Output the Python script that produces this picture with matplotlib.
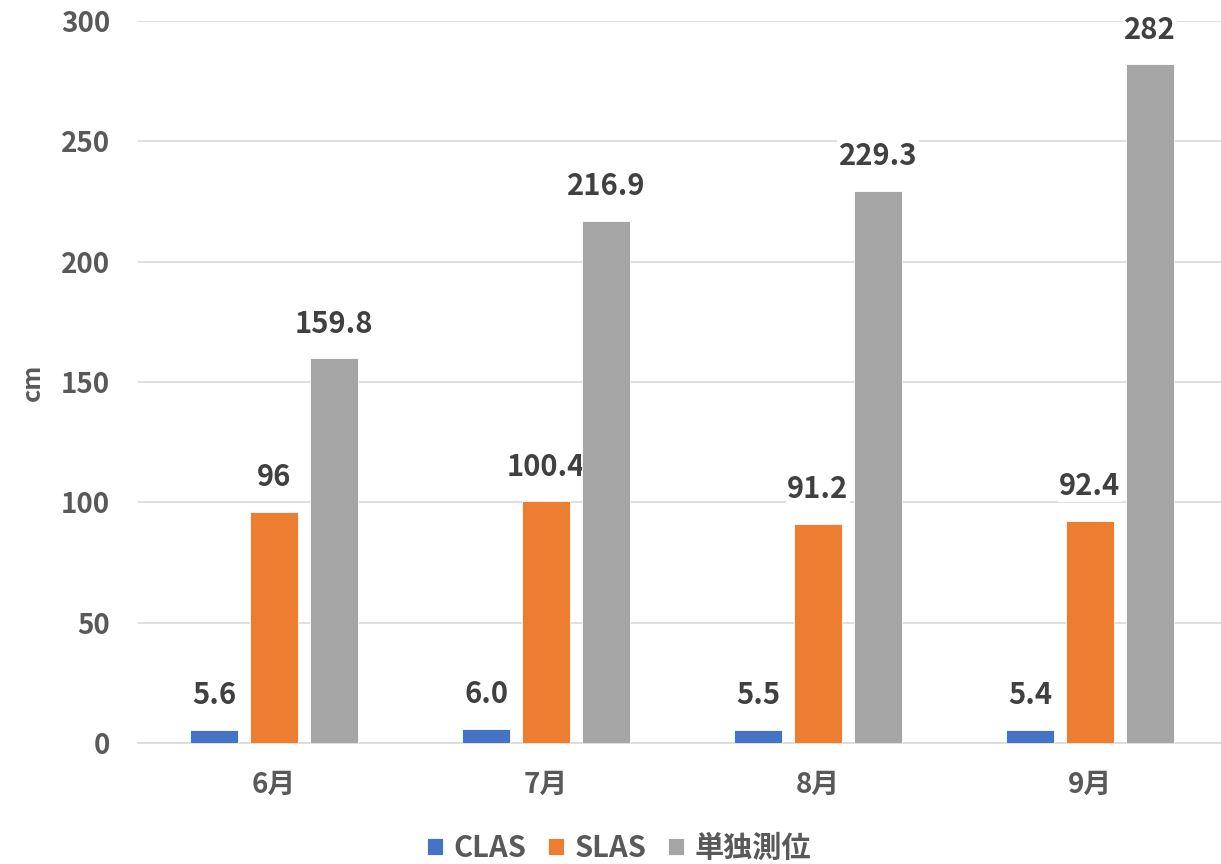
import matplotlib
matplotlib.use("Agg")
import matplotlib.pyplot as plt
import numpy as np

plt.rcParams['font.family'] = ['Noto Sans CJK JP', 'DejaVu Sans']

months = ["6月", "7月", "8月", "9月"]
series_names = ["CLAS", "SLAS", "単独測位"]
clas = [5.6, 6.0, 5.5, 5.4]
slas = [96, 100.4, 91.2, 92.4]
single = [159.8, 216.9, 229.3, 282]
label_text = [
    ["5.6", "6.0", "5.5", "5.4"],
    ["96", "100.4", "91.2", "92.4"],
    ["159.8", "216.9", "229.3", "282"],
]
colors = ["#4472C4", "#ED7D31", "#A5A5A5"]
yticks = [0, 50, 100, 150, 200, 250, 300]

fig = plt.figure(figsize=(12.21, 8.64), dpi=100)
ax = fig.add_axes([138 / 1221, 121 / 864, (1221 - 138) / 1221, (743 - 21) / 864])

x = np.arange(len(months))
offsets = [-0.22, 0.0, 0.22]
width = 0.176
values = [clas, slas, single]

for i, (vals, col, name) in enumerate(zip(values, colors, series_names)):
    bars = ax.bar(x + offsets[i], vals, width=width, color=col,
                  edgecolor="white", linewidth=0.6, label=name, zorder=3)
    for b, txt in zip(bars, label_text[i]):
        # value label on a white patch that hides the gridline behind it
        ax.annotate(txt, (b.get_x() + b.get_width() / 2, b.get_height()),
                    xytext=(0, 18.5), textcoords="offset points",
                    ha="center", va="baseline", fontsize=21, fontweight="bold",
                    color="#404040", zorder=2,
                    bbox=dict(facecolor="white", edgecolor="none", pad=1.0))

ax.set_xlim(-0.5, 3.5 - 5 / 272)
ax.set_ylim(0, 300)
ax.set_yticks(yticks)
ax.set_xticks(x)
ax.set_xticklabels(months)
ax.grid(axis="y", color="#D9D9D9", linewidth=1.2, zorder=0)
ax.set_axisbelow(True)
for s in ["top", "right", "left"]:
    ax.spines[s].set_visible(False)
ax.spines["bottom"].set_color("#D9D9D9")
ax.spines["bottom"].set_linewidth(1.2)
ax.tick_params(axis="both", length=0, labelsize=20, labelcolor="#595959")
ax.tick_params(axis="y", pad=20)
ax.tick_params(axis="x", pad=20)
for lbl in ax.get_xticklabels() + ax.get_yticklabels():
    lbl.set_fontweight("bold")

ax.set_ylabel("cm", fontsize=18, fontweight="bold", color="#595959")
ax.yaxis.set_label_coords(-93 / (1221 - 138), 0.5)

leg = fig.legend(loc="center", bbox_to_anchor=(0.507, 16 / 864), ncol=3,
                 frameon=False, fontsize=21, handlelength=0.55, handleheight=0.55,
                 handletextpad=0.35, columnspacing=0.75)
for t in leg.get_texts():
    t.set_color("#595959")
    t.set_fontweight("bold")

fig.savefig("out.png", dpi=100)
